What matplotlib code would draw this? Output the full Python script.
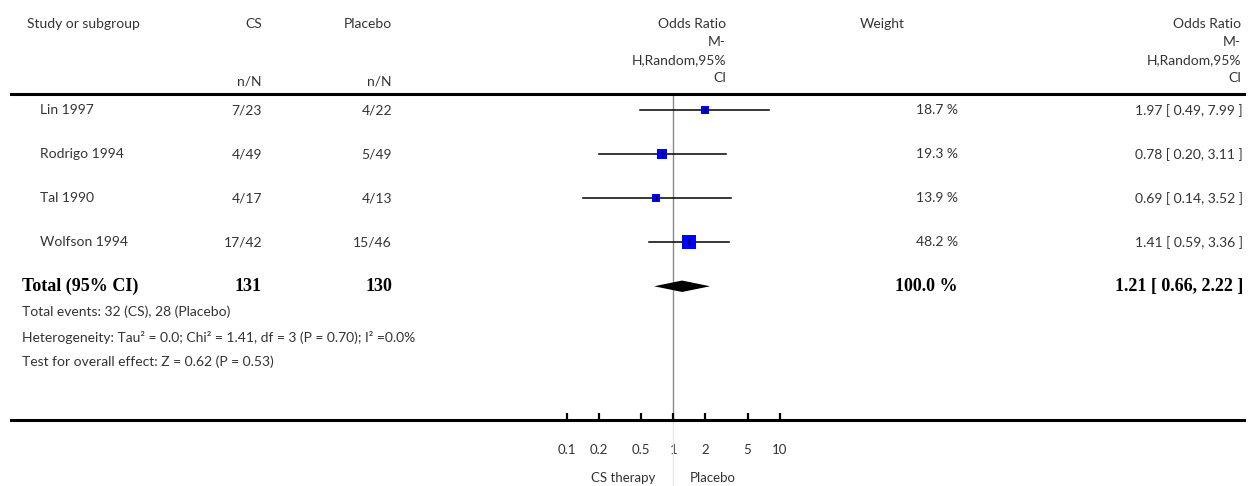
import numpy as np
import matplotlib
matplotlib.use("Agg")
import matplotlib.pyplot as plt
from matplotlib import transforms
from matplotlib.lines import Line2D

# ======================
# data
# ======================
studies = ["Lin 1997", "Rodrigo 1994", "Tal 1990", "Wolfson 1994"]
cs_events = [7, 4, 4, 17]
cs_total = [23, 49, 17, 42]
pl_events = [4, 5, 4, 15]
pl_total = [22, 49, 13, 46]
weights = [18.7, 19.3, 13.9, 48.2]
odds = [1.97, 0.78, 0.69, 1.41]
ci_low = [0.49, 0.20, 0.14, 0.59]
ci_high = [7.99, 3.11, 3.52, 3.36]

total_cs, total_pl = 131, 130
total_weight = 100.0
total_or, total_lo, total_hi = 1.21, 0.66, 2.22

tick_vals = [0.1, 0.2, 0.5, 1, 2, 5, 10]
tick_labels = ["0.1", "0.2", "0.5", "1", "2", "5", "10"]

footer = [
    "Total events: 32 (CS), 28 (Placebo)",
    "Heterogeneity: Tau\u00b2 = 0.0; Chi\u00b2 = 1.41, df = 3 (P = 0.70); I\u00b2 =0.0%",
    "Test for overall effect: Z = 0.62 (P = 0.53)",
]

# ======================
# figure
# ======================
W, H = 1258, 486
fig = plt.figure(figsize=(W / 100, H / 100), dpi=100)
plt.rcParams["font.family"] = ["Lato", "DejaVu Sans"]

TXT = "#333333"
FS = 10
BOLD = dict(family="Liberation Serif", fontweight="bold", fontsize=13, color="black")


def fx(px):
    return px / W


def fy(py):
    return 1 - py / H


# forest axes: pixels x 540-810, y 94-420
ax = fig.add_axes([fx(540), fy(420), fx(810) - fx(540), fy(94) - fy(420)])
ax.set_xscale("log")
ax.set_xlim(10 ** -1.254, 10 ** 1.286)
ax.set_ylim(7.04, -0.37)
for s in ax.spines.values():
    s.set_visible(False)
ax.set_yticks([])
ax.set_xticks(tick_vals, tick_labels)
ax.minorticks_off()
ax.tick_params(axis="x", direction="in", length=5, width=1.6, pad=17,
               labelsize=9.5, labelcolor=TXT, color="black")

ax.axvline(1, color="#8a8a8a", lw=1, zorder=1)
ax.axvline(1, ymin=-0.21, ymax=0, color="#e6e6e6", lw=1, clip_on=False)

rows = np.arange(len(studies))
for i in rows:
    ax.plot([ci_low[i], ci_high[i]], [i, i], color="black", lw=1.1, zorder=2)
    side_px = 2.08 * np.sqrt(weights[i])
    ax.plot(odds[i], i, marker="s", color="#0000ff", markersize=side_px * 0.72,
            markeredgewidth=0, zorder=3)
    ax.plot(odds[i], i, marker="|", color="black", markersize=4, mew=1, zorder=4)

# diamond for pooled estimate
ty = len(studies)
dh = 0.13
ax.fill([total_lo, total_or, total_hi, total_or], [ty, ty - dh, ty, ty + dh],
        color="black", lw=0, zorder=3)

# horizontal rules
fig.add_artist(Line2D([fx(11), fx(1244)], [fy(94), fy(94)], color="black", lw=2.2))
fig.add_artist(Line2D([fx(11), fx(1244)], [fy(420), fy(420)], color="black", lw=2.2))

# ======================
# table text
# ======================
rowtr = transforms.blended_transform_factory(fig.transFigure, ax.transData)

hdr = dict(fontsize=FS, color=TXT, va="center")
fig.text(fx(27), fy(24), "Study or subgroup", ha="left", **hdr)
fig.text(fx(262), fy(24), "CS", ha="right", **hdr)
fig.text(fx(262), fy(81), "n/N", ha="right", **hdr)
fig.text(fx(392), fy(24), "Placebo", ha="right", **hdr)
fig.text(fx(392), fy(81), "n/N", ha="right", **hdr)
fig.text(fx(882), fy(24), "Weight", ha="center", **hdr)

or_head = ["Odds Ratio", "M-", "H,Random,95%", "CI"]
for k, label in enumerate(or_head):
    fig.text(fx(726), fy(24 + 18 * k), label, ha="right", **hdr)
    fig.text(fx(1241), fy(24 + 18 * k), label, ha="right", **hdr)

cell = dict(fontsize=FS, color=TXT, va="center", transform=rowtr)
for i in rows:
    fig.text(fx(40), i, studies[i], ha="left", **cell)
    fig.text(fx(262), i, f"{cs_events[i]}/{cs_total[i]}", ha="right", **cell)
    fig.text(fx(392), i, f"{pl_events[i]}/{pl_total[i]}", ha="right", **cell)
    fig.text(fx(958), i, f"{weights[i]:.1f} %", ha="right", **cell)
    fig.text(fx(1243), i, f"{odds[i]:.2f} [ {ci_low[i]:.2f}, {ci_high[i]:.2f} ]",
             ha="right", **cell)

fig.text(fx(22), ty, "Total (95% CI)", ha="left", va="center", transform=rowtr, **BOLD)
fig.text(fx(262), ty, f"{total_cs}", ha="right", va="center", transform=rowtr, **BOLD)
fig.text(fx(392), ty, f"{total_pl}", ha="right", va="center", transform=rowtr, **BOLD)
fig.text(fx(958), ty, f"{total_weight:.1f} %", ha="right", va="center", transform=rowtr, **BOLD)
fig.text(fx(1243), ty, f"{total_or:.2f} [ {total_lo:.2f}, {total_hi:.2f} ]",
         ha="right", va="center", transform=rowtr, **BOLD)

for k, line in enumerate(footer):
    fig.text(fx(22), fy(312 + 25 * k), line, ha="left", **hdr)

fig.text(fx(655), fy(478), "CS therapy", ha="right", fontsize=9.5, color=TXT, va="center")
fig.text(fx(690), fy(478), "Placebo", ha="left", fontsize=9.5, color=TXT, va="center")

fig.savefig("out.png", dpi=100)
